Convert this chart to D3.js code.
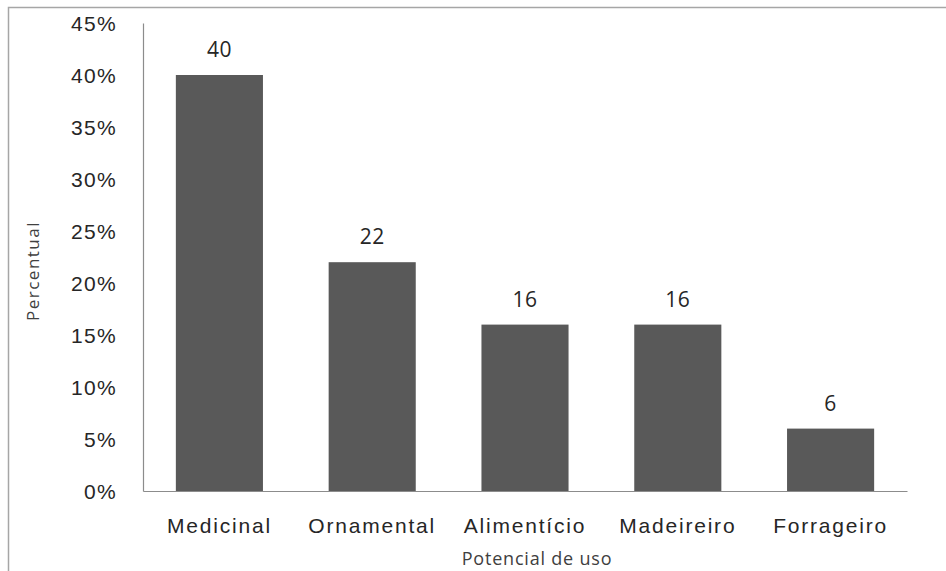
<!DOCTYPE html>
<html>
<head>
<meta charset="utf-8">
<script src="https://cdn.jsdelivr.net/npm/d3@7"></script>
<style>
  body { margin: 0; background: #fff; }
  svg { display: block; font-family: "Open Sans", "Noto Sans", sans-serif; }
</style>
</head>
<body>
<svg id="chart" width="946" height="571"></svg>
<script>
// Chart data
const categories = ["Medicinal", "Ornamental", "Alimentício", "Madeireiro", "Forrageiro"];
const values = [40, 22, 16, 16, 6];
const yTicks = [0, 5, 10, 15, 20, 25, 30, 35, 40, 45];
const xTitle = "Potencial de uso";
const yTitle = "Percentual";

function drawChart() {
    const svg = d3.select("#chart");
    const margin = { top: 23, right: 39, bottom: 80, left: 143 };
    const width = +svg.attr("width");
    const height = +svg.attr("height");
    const textColor = "#404040";

    // Outer frame (top and left edges visible)
    svg.append("path")
        .attr("d", `M8.5,${height} V7.5 H${width}`)
        .attr("fill", "none")
        .attr("stroke", "#a6a6a6")
        .attr("stroke-width", 1.5);

    const x = d3.scaleBand()
        .domain(categories)
        .range([margin.left, width - margin.right])
        .paddingInner(0.43)
        .paddingOuter(0.215);

    const y = d3.scaleLinear()
        .domain([0, 45])
        .range([491, margin.top]);

    // Bars
    svg.selectAll("rect.bar")
        .data(values)
        .enter()
        .append("rect")
        .attr("class", "bar")
        .attr("x", (d, i) => x(categories[i]))
        .attr("y", d => y(d))
        .attr("width", x.bandwidth())
        .attr("height", d => y(0) - y(d))
        .attr("fill", "#595959");

    // Value labels
    svg.selectAll("text.val")
        .data(values)
        .enter()
        .append("text")
        .attr("class", "val")
        .attr("x", (d, i) => x(categories[i]) + x.bandwidth() / 2)
        .attr("y", d => y(d) - 18)
        .attr("text-anchor", "middle")
        .attr("font-size", 21)
        .attr("letter-spacing", 0.5)
        .attr("fill", "#262626")
        .text(d => d);

    // Y axis
    const yAxis = svg.append("g")
        .attr("transform", `translate(${margin.left},0)`)
        .call(d3.axisLeft(y).tickValues(yTicks).tickSize(0).tickPadding(26).tickFormat(d => d + "%"));
    yAxis.select(".domain").attr("stroke", "#8c8c8c").attr("stroke-width", 1.2);
    yAxis.selectAll("text")
        .attr("font-size", 21)
        .attr("letter-spacing", 1.3)
        .attr("dy", "0.38em")
        .attr("fill", "#262626")
        .attr("font-family", null);

    // X axis
    const xAxis = svg.append("g")
        .attr("transform", `translate(0,${y(0)})`)
        .call(d3.axisBottom(x).tickSize(0).tickPadding(27));
    xAxis.select(".domain").attr("stroke", "#8c8c8c").attr("stroke-width", 1.2);
    xAxis.selectAll("text")
        .attr("font-size", 21)
        .attr("letter-spacing", 1.8)
        .attr("fill", "#262626")
        .attr("font-family", null);

    // Axis titles
    svg.append("text")
        .attr("x", 537)
        .attr("y", 565)
        .attr("text-anchor", "middle")
        .attr("font-size", 18)
        .attr("letter-spacing", 0.8)
        .attr("fill", textColor)
        .text(xTitle);

    svg.append("text")
        .attr("transform", "translate(39,271) rotate(-90)")
        .attr("text-anchor", "middle")
        .attr("font-size", 17)
        .attr("letter-spacing", 1.5)
        .attr("fill", textColor)
        .text(yTitle);
}

drawChart();
</script>
</body>
</html>
